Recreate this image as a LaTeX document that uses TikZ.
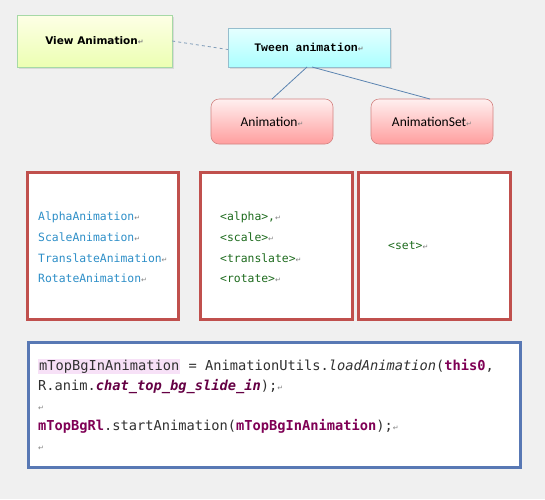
\documentclass[tikz,border=0pt]{standalone}
\usepackage{fontspec}
\usepackage{xcolor}
\setmainfont{Liberation Sans}
\newfontfamily\viewfont{DejaVu Sans}
\newfontfamily\tweenfont{Liberation Mono}
\newfontfamily\calfont{Carlito}
\newfontfamily\codefont{DejaVu Sans Mono}
\newfontfamily\symfont{DejaVu Sans}
\definecolor{bgc}{HTML}{F0F0F0}
\definecolor{redb}{HTML}{C0504D}
\definecolor{blueb}{HTML}{5878B4}
\definecolor{linec}{HTML}{5B84B1}
\definecolor{dashc}{HTML}{7F9DB9}
\definecolor{clsblue}{HTML}{2E8FC8}
\definecolor{tagc}{HTML}{1E6B1E}
\definecolor{kw}{HTML}{7F0055}
\definecolor{hl}{HTML}{F7E1F7}
\definecolor{codec}{HTML}{303030}
\newcommand{\retmark}{{\symfont\fontsize{7}{7}\selectfont\color{gray}↵}}
\tikzset{
  boxtxt/.style={anchor=base west, inner sep=0pt, font=\codefont\fontsize{11.4}{11.4}\selectfont},
  codetxt/.style={anchor=base west, inner sep=0pt, font=\codefont\fontsize{13.7}{13.7}\selectfont, text=codec},
  redbox/.style={draw=redb, line width=3pt, fill=white},
  pinkbox/.style={draw=redb!70, rounded corners=8pt, top color=red!6, bottom color=red!38, line width=0.6pt, minimum width=122pt, minimum height=45pt, inner sep=0pt, font=\calfont\fontsize{13.5}{13.5}\selectfont},
  conn/.style={draw=linec, line width=0.8pt}
}
\begin{document}
\begin{tikzpicture}[x=1pt,y=-1pt]
\fill[bgc] (0,0) rectangle (545,499);
\useasboundingbox (0,0) rectangle (545,499);
% top nodes
\fill[black!15] (19,17) rectangle (174,69);
\node[draw=green!40!gray!50, top color=green!6!yellow!10, bottom color=green!25!yellow!30, minimum width=155pt, minimum height=52pt, inner sep=0pt, font=\viewfont\bfseries\fontsize{10.5}{10.5}\selectfont] (view) at (94.5,41) {View Animation\retmark};
\fill[black!15] (230,30) rectangle (392,69);
\node[draw=cyan!40!gray!70, top color=cyan!10, bottom color=cyan!33, minimum width=162pt, minimum height=39pt, inner sep=0pt, font=\tweenfont\bfseries\fontsize{11.5}{11.5}\selectfont] (tween) at (309,47.5) {Tween animation\retmark};
\node[pinkbox] (anim) at (272,121.5) {Animation\retmark};
\node[pinkbox] (animset) at (432,121.5) {AnimationSet\retmark};
\coordinate (t1) at (307,67);
\coordinate (t2) at (312,67);
\coordinate (a1) at (272,99);
\coordinate (s1) at (430,99);
\draw[conn] (t1) -- (a1);
\draw[conn] (t2) -- (s1);
\draw[dashc, dashed, line width=0.8pt] (view.east) -- ([yshift=-2pt]tween.west);
% red boxes
\node[redbox, minimum width=151pt, minimum height=147pt, inner sep=0pt] (b1) at (102.5,245.5) {};
\node[redbox, minimum width=152pt, minimum height=147pt, inner sep=0pt] (b2) at (276,245.5) {};
\node[redbox, minimum width=152pt, minimum height=147pt, inner sep=0pt] (b3) at (434,245.5) {};
\node[boxtxt, text=clsblue] (c1) at (38,220) {AlphaAnimation\retmark};
\node[boxtxt, text=clsblue] (c2) at (38,241) {ScaleAnimation\retmark};
\node[boxtxt, text=clsblue] (c3) at (38,262) {TranslateAnimation\retmark};
\node[boxtxt, text=clsblue] (c4) at (38,282) {RotateAnimation\retmark};
\node[boxtxt, text=tagc] (x1) at (220,220) {<alpha>,\retmark};
\node[boxtxt, text=tagc] (x2) at (220,241) {<scale>\retmark};
\node[boxtxt, text=tagc] (x3) at (220,262) {<translate>\retmark};
\node[boxtxt, text=tagc] (x4) at (220,282) {<rotate>\retmark};
\node[boxtxt, text=tagc] (x5) at (388,249) {<set>\retmark};
% code box
\node[draw=blueb, line width=3pt, fill=white, minimum width=492pt, minimum height=125pt, inner sep=0pt] (code) at (274,404.5) {};
\setlength{\fboxsep}{1pt}
\node[codetxt] (l1) at (38,370) {\colorbox{hl}{mTopBgInAnimation} = AnimationUtils.\textit{loadAnimation}(\textcolor{kw}{\textbf{this0}},};
\node[codetxt] (l2) at (38,390) {R.anim.\textcolor{kw!80!black}{\textbf{\textit{chat\_top\_bg\_slide\_in}}});\retmark};
\node[codetxt] (l3) at (38,410) {\retmark};
\node[codetxt] (l4) at (38,430) {\textcolor{kw}{\textbf{mTopBgRl}}.startAnimation(\textcolor{kw}{\textbf{mTopBgInAnimation}});\retmark};
\node[codetxt] (l5) at (38,450) {\retmark};
\end{tikzpicture}
\end{document}
